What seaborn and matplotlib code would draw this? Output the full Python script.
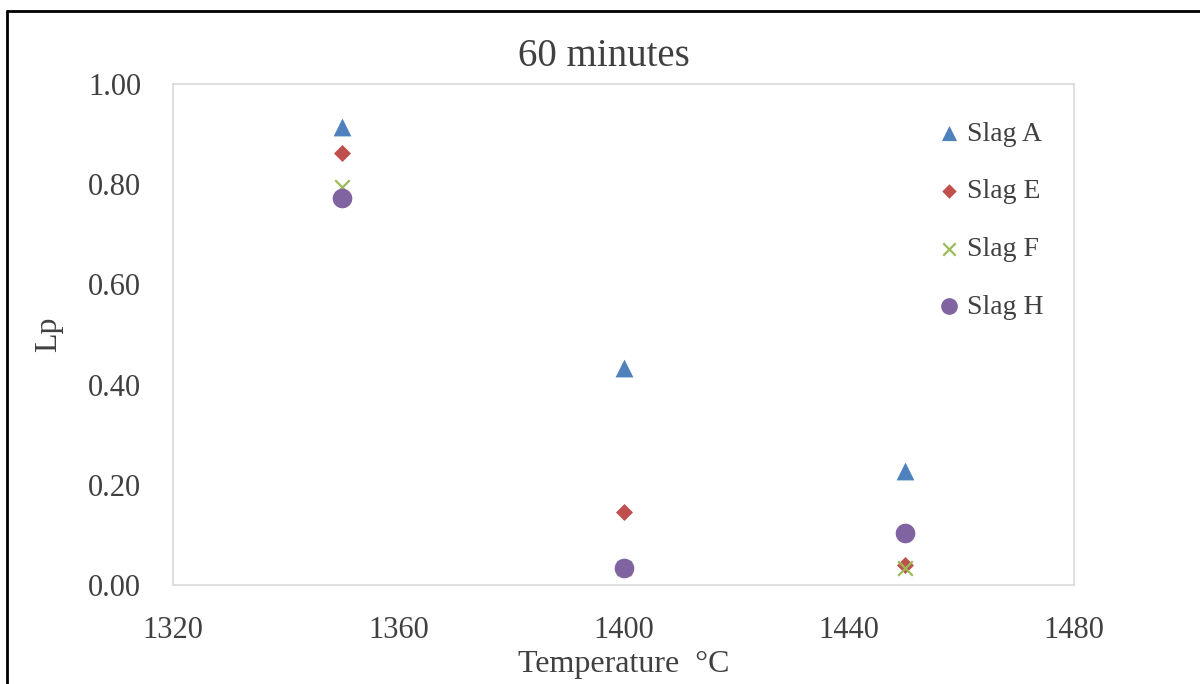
import matplotlib
matplotlib.use("Agg")
import matplotlib.pyplot as plt
from matplotlib.lines import Line2D
import seaborn as sns
import pandas as pd
from matplotlib.ticker import FormatStrFormatter

# Phosphorus partition ratio (Lp) after 60 minutes at each temperature
temperatures = [1350, 1400, 1450]
slag_a = [0.915, 0.434, 0.228]
slag_e = [0.862, 0.145, 0.040]
slag_f = [0.795, 0.033, 0.033]
slag_h = [0.772, 0.034, 0.103]

series_names = ["Slag A", "Slag E", "Slag F", "Slag H"]
x_ticks = [1320, 1360, 1400, 1440, 1480]
y_ticks = [0.0, 0.2, 0.4, 0.6, 0.8, 1.0]

rows = []
for name, vals in zip(series_names, [slag_a, slag_e, slag_f, slag_h]):
    for t, v in zip(temperatures, vals):
        rows.append({"Temperature": t, "Lp": v, "Slag": name})
df = pd.DataFrame(rows)

sns.set_theme(style="white")
plt.rcParams["font.family"] = ["Liberation Serif", "DejaVu Serif"]
text_color = "#404040"

styles = {
    "Slag A": dict(marker="^", color="#4F81BD", s=165, linewidth=0),
    "Slag E": dict(marker="D", color="#C0504D", s=75, linewidth=0),
    "Slag F": dict(marker="x", color="#9BBB59", s=110, linewidth=1.6),
    "Slag H": dict(marker="o", color="#8064A2", s=200, linewidth=0),
}

fig = plt.figure(figsize=(12, 6.84), dpi=100)
ax = fig.add_axes([0.1442, 0.1447, 0.7508, 0.7325])

for name in series_names:
    sub = df[df["Slag"] == name]
    sns.scatterplot(data=sub, x="Temperature", y="Lp", ax=ax, label=name,
                    **styles[name])

ax.set_xlim(1320, 1480)
ax.set_ylim(0, 1.0)
ax.set_xticks(x_ticks)
ax.set_yticks(y_ticks)
ax.yaxis.set_major_formatter(FormatStrFormatter("%.2f"))
ax.tick_params(axis="both", length=0, labelsize=22, colors=text_color)
ax.tick_params(axis="y", pad=23)
ax.tick_params(axis="x", pad=22)
for sp in ax.spines.values():
    sp.set_color("#D9D9D9")
    sp.set_linewidth(1.2)

ax.set_xlabel("Temperature  \u00b0C", fontsize=23, color=text_color, labelpad=4)
ax.set_ylabel("Lp", fontsize=23, color=text_color, labelpad=18)
fig.text(0.503, 1 - 56 / 684, "60 minutes", fontsize=28, color=text_color,
         ha="center", va="center")

leg = ax.legend(loc="upper right", frameon=False, fontsize=20,
                labelspacing=1.16, handletextpad=0.15, handlelength=1.0,
                borderaxespad=0.0, markerscale=0.85,
                bbox_to_anchor=(0.979, 0.948))
for t in leg.get_texts():
    t.set_color(text_color)

# outer border lines on top and left
fig.add_artist(Line2D([7 / 1200, 1.0], [1 - 11 / 684, 1 - 11 / 684],
                      transform=fig.transFigure, color="black", linewidth=2))
fig.add_artist(Line2D([7 / 1200, 7 / 1200], [0, 1 - 11 / 684],
                      transform=fig.transFigure, color="black", linewidth=2))

fig.savefig("out.png", dpi=100)
